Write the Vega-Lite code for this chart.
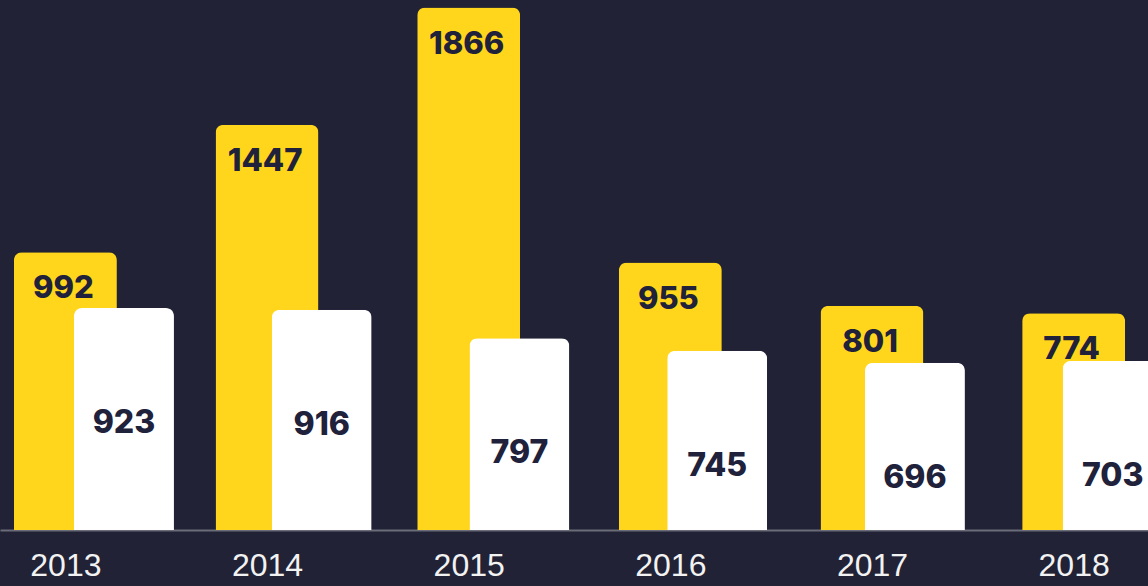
{
  "$schema": "https://vega.github.io/schema/vega-lite/v6.json",
  "width": 1148,
  "height": 530,
  "autosize": {"type": "none"},
  "padding": {"left": 0, "top": 0, "right": 0, "bottom": 56},
  "background": "#212235",
  "config": {"view": {"stroke": null}},
  "data": {
    "values": [
      {"year": 2013, "a": 992, "b": 923},
      {"year": 2014, "a": 1447, "b": 916},
      {"year": 2015, "a": 1866, "b": 797},
      {"year": 2016, "a": 955, "b": 745},
      {"year": 2017, "a": 801, "b": 696},
      {"year": 2018, "a": 774, "b": 703}
    ]
  },
  "layer": [
    {
      "encoding": {
        "x": {
          "field": "year",
          "type": "quantitative",
          "scale": {"domain": [2012.7004, 2018.3439], "nice": false, "zero": false},
          "axis": {
            "values": [2013, 2014, 2015, 2016, 2017, 2018],
            "format": "d",
            "title": null,
            "grid": false,
            "ticks": false,
            "domain": true,
            "domainColor": "#6b6c7a",
            "domainWidth": 2,
            "labelFont": "Liberation Sans",
            "labelFontSize": 32,
            "labelColor": "#f2f2f2",
            "labelPadding": 20,
            "labelBaseline": "top",
            "labelFlush": false
          }
        },
        "y": {
          "field": "a",
          "type": "quantitative",
          "scale": {"domain": [0, 1893], "nice": false},
          "axis": null
        }
      },
      "layer": [
        {
          "mark": {"type": "bar", "color": "#ffd61c", "size": 103, "cornerRadiusTopLeft": 8, "cornerRadiusTopRight": 8}
        },
        {
          "mark": {"type": "text", "font": "Inter", "fontWeight": 800, "fontSize": 31, "color": "#20213a", "baseline": "middle", "dy": 37, "dx": -2},
          "encoding": {"text": {"field": "a", "type": "quantitative", "format": "d"}}
        }
      ]
    },
    {
      "encoding": {
        "x": {
          "field": "year",
          "type": "quantitative",
          "scale": {"domain": [2012.3984, 2018.1533], "nice": false, "zero": false},
          "axis": null
        },
        "y": {
          "field": "b",
          "type": "quantitative",
          "scale": {"domain": [0, 2204], "nice": false},
          "axis": null
        }
      },
      "layer": [
        {
          "mark": {"type": "bar", "color": "#ffffff", "size": 100, "cornerRadiusTopLeft": 8, "cornerRadiusTopRight": 8}
        },
        {
          "mark": {"type": "text", "font": "Inter", "fontWeight": 800, "fontSize": 32, "color": "#20213a", "baseline": "middle", "dy": 115},
          "encoding": {"text": {"field": "b", "type": "quantitative", "format": "d"}}
        }
      ]
    }
  ],
  "resolve": {"scale": {"x": "independent", "y": "independent"}, "axis": {"x": "independent"}}
}
